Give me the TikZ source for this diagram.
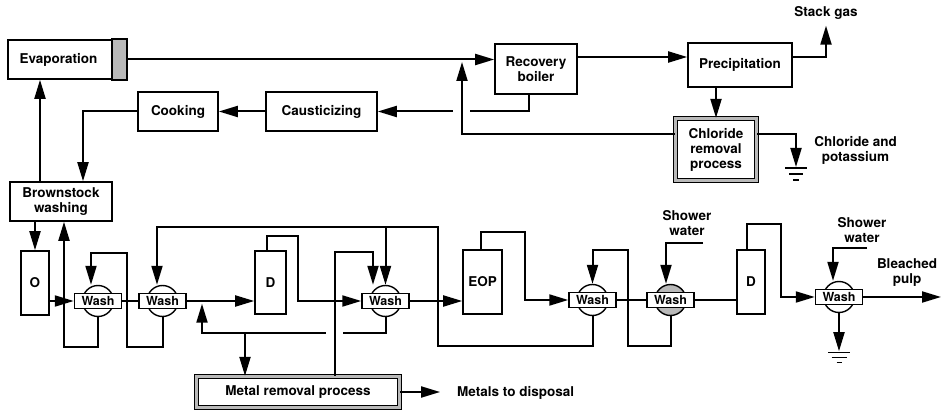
\documentclass[tikz,border=0pt]{standalone}
\usepackage{fontspec}
\setmainfont{TeX Gyre Heros}
\usetikzlibrary{arrows.meta,calc}
\begin{document}
\begin{tikzpicture}[x=1pt,y=-1pt,
  font=\fontsize{13.5}{15}\selectfont\bfseries,
  box/.style={draw, line width=1.6pt, fill=white, inner sep=0pt, align=center},
  dbox/.style={draw, line width=1.2pt, double=gray!55, double distance=2.8pt, fill=white, inner sep=0pt, align=center},
  ln/.style={line width=2pt},
  arr/.style={line width=2pt, -{Triangle[length=19pt,width=11pt]}},
  lbl/.style={inner sep=0pt, align=center},
  washc/.style={circle, draw, line width=1.4pt, minimum size=31pt, inner sep=0pt},
  washr/.style={draw, line width=1.5pt, fill=white, minimum width=47pt, minimum height=15pt, inner sep=0pt, font=\fontsize{12.5}{13}\selectfont\bfseries},
  gap/.style={white, line width=5pt}
]
\useasboundingbox (0,0) rectangle (942,411);

% ---------- top section boxes ----------
\node[box, minimum width=118pt, minimum height=39pt] (evap) at (67,59.5) {};
\filldraw[fill=gray!55, line width=1.6pt] ([xshift=-15pt]evap.north east) rectangle (evap.south east);
\node[lbl] (evaptxt) at (58.5,59.5) {Evaporation};
\node[box, minimum width=80pt, minimum height=39pt] (cook) at (178,111.5) {Cooking};
\node[box, minimum width=111pt, minimum height=39pt] (caus) at (321.5,111.5) {Causticizing};
\node[box, minimum width=82pt, minimum height=50pt] (rec) at (536,69) {Recovery\\boiler};
\node[box, minimum width=104pt, minimum height=44pt] (prec) at (740,65) {Precipitation};
\node[dbox, minimum width=81pt, minimum height=62pt] (chl) at (716,149.5) {Chloride\\removal\\process};
\node[box, minimum width=102pt, minimum height=39pt] (bsw) at (61,201.5) {Brownstock\\washing};

\node[lbl] (stack) at (826,13) {Stack gas};
\node[lbl] (chlout) at (855.5,150) {Chloride and\\potassium};

% ---------- bottom section boxes ----------
\node[box, minimum width=28pt, minimum height=64pt] (O) at (35,283) {O};
\node[box, minimum width=31pt, minimum height=63pt] (d1) at (270.5,282.5) {D};
\node[box, minimum width=39pt, minimum height=64pt] (eop) at (482.5,282) {EOP};
\node[box, minimum width=28pt, minimum height=64pt] (d2) at (751,282) {D};
\node[dbox, minimum width=203pt, minimum height=31pt] (metal) at (298,392) {Metal removal process};

\node[washc, fill=white] (w1c) at (98,301) {};
\node[washr] (w1) at (98,301) {Wash};
\node[washc, fill=white] (w2c) at (162.5,301) {};
\node[washr] (w2) at (162.5,301) {Wash};
\node[washc, fill=white] (w3c) at (385.5,301) {};
\node[washr] (w3) at (385.5,301) {Wash};
\node[washc, fill=white] (w4c) at (592.5,300) {};
\node[washr] (w4) at (592.5,300) {Wash};
\node[washc, fill=gray!55] (w5c) at (670.5,300) {};
\node[washr] (w5) at (670.5,300) {Wash};
\node[washc, fill=white] (w6c) at (839,297) {};
\node[washr] (w6) at (839,297) {Wash};

\node[lbl] (sw1) at (687,223) {Shower\\water};
\node[lbl] (sw2) at (862,230) {Shower\\water};
\node[lbl] (bp) at (907,272.5) {Bleached\\pulp};
\node[lbl, anchor=west] (disp) at (457,393) {Metals to disposal};

% ---------- top connectors ----------
\draw[arr] (evap.east) -- (evap.east -| rec.west);
\coordinate (r1) at ([yshift=12pt]rec.east);
\draw[arr] (r1) -- (r1 -| prec.west);
\draw[arr] ([yshift=8pt]prec.east) -| ([yshift=-6pt]stack.south);
\draw[arr] (prec.south -| chl.north) -- (chl.north);
\coordinate (c1) at ([yshift=15.5pt]chl.east);
\coordinate (gnd1) at (796,167);
\draw[arr] (c1) -| (gnd1);
\draw[line width=1.6pt] ($(gnd1)+(-11,1)$) -- ($(gnd1)+(11,1)$);
\draw[line width=1.6pt] ($(gnd1)+(-7,7)$) -- ($(gnd1)+(7,7)$);
\draw[line width=1.6pt] ($(gnd1)+(-3,13)$) -- ($(gnd1)+(3,13)$);

\coordinate (j1) at (462,62);
\draw[arr] ([xshift=-7pt]rec.south) |- (caus.east);
\draw[gap] ($(j1|-caus.east)+(-9,0)$) -- ($(j1|-caus.east)+(8,0)$);
\draw[arr] (c1 -| chl.west) -| (j1);

\draw[arr] (caus.west) -- (cook.east);
\draw[arr] (cook.west) -| ([xshift=22pt]bsw.north);
\draw[arr] ([xshift=-21pt]bsw.north) -- ([xshift=-21pt]bsw.north |- evap.south);

% ---------- bottom connectors ----------
\draw[arr] (O.north |- bsw.south) -- (O.north);
\draw[arr] (O.east |- w1.west) -- (w1.west);
\draw[arr] (w1c.south) -- ++(0,29.5) -| ([xshift=3pt]bsw.south);
\draw[arr] (w2c.south) -- ++(0,29.5) -- ++(-35.5,0) -- ++(0,-94) -| ([xshift=-7pt]w1c.north);
\draw[ln] (w1.east) -- (w2.west);

\draw[arr] (w2.east) -- (w2.east -| d1.west);
\draw[arr] (w3c.south) -- ++(0,15.5) -- ++(-183.5,0) coordinate (f3) -- ++(0,-29);
\draw[gap] ($(f3)+(124,0)$) -- ($(f3)+(141,0)$);
\draw[arr] ([xshift=-53pt]metal.north |- f3) -- ([xshift=-53pt]metal.north);
\draw[arr] ([xshift=37pt]metal.north) -- ++(0,-124) -| ([xshift=-12.5pt]w3c.north);
\draw[arr] ([xshift=-3.5pt]d1.north) -- ++(0,-14) -- ++(31,0) |- (w3.west);

\draw[arr] (w4c.south) -- ++(0,29.5) -- ++(-154.5,0) -- ++(0,-119) coordinate (t4) -| ([xshift=-5.5pt]w2c.north);
\draw[arr] (t4 -| w3c.north) -- (w3c.north);

\draw[arr] (w3.east) -- (w3.east -| eop.west);
\draw[arr] ([xshift=-1.5pt]eop.north) -- ++(0,-17) -- ++(44,0) |- (w4.west);
\draw[ln] (w4.east) -- (w5.west);
\draw[arr] (w5c.south) -- ++(0,29.5) -- ++(-42.5,0) -- ++(0,-96) -| (w4c.north);

\coordinate (sh1) at (703,243);
\draw[arr] (sh1) -| ([xshift=-4.5pt]w5c.north);
\draw[ln] (w5.east) -- (w5.east -| d2.west);
\draw[arr] ([xshift=-4pt]d2.north) -- ++(0,-25) -- ++(34,0) |- (w6.west);
\coordinate (sh2) at (867,248);
\draw[arr] (sh2) -| ([xshift=-6pt]w6c.north);
\coordinate (out) at (941,297);
\draw[arr] (w6.east) -- (out);
\draw[arr] (w6c.south) -- ++(0,38) coordinate (g2);
\draw[line width=1.6pt] ($(g2)+(-11,1.5)$) -- ($(g2)+(11,1.5)$);
\draw[line width=1.6pt] ($(g2)+(-7.5,6.5)$) -- ($(g2)+(7.5,6.5)$);
\draw[line width=1.6pt] ($(g2)+(-2.5,11.5)$) -- ($(g2)+(2.5,11.5)$);

\draw[arr] (metal.east) -- ++(40,0);
\end{tikzpicture}
\end{document}
